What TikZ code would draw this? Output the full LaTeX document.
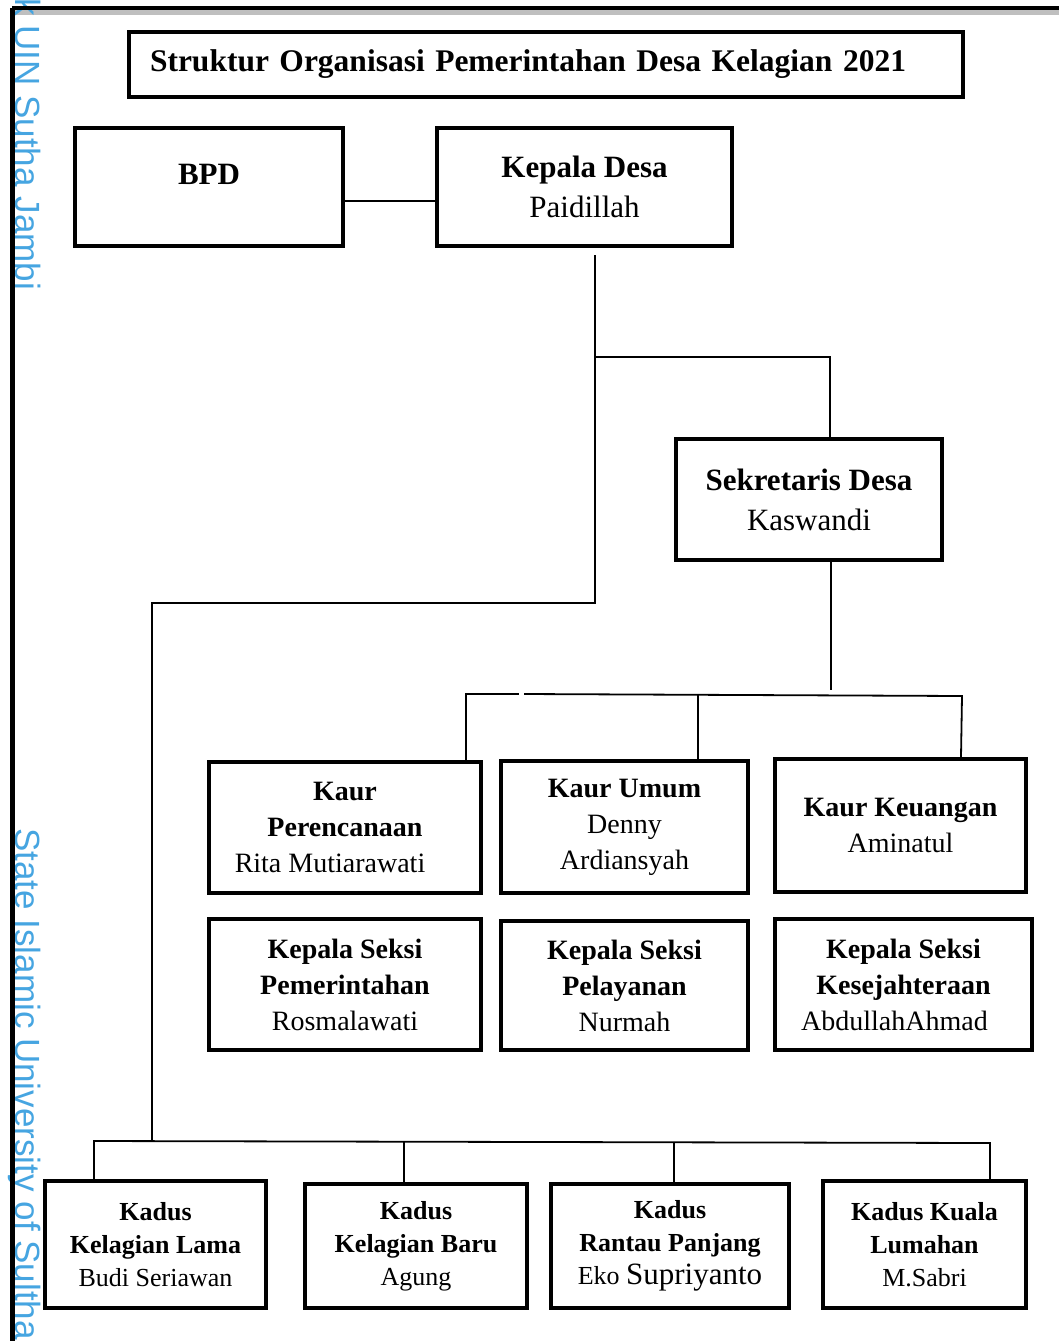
\documentclass[tikz,border=0pt]{standalone}
\usepackage{fontspec}
\setmainfont{Liberation Serif}
\newfontfamily\wmfont{Liberation Sans}
\usepackage{tikz}
\usetikzlibrary{positioning}
\definecolor{wm_blue}{RGB}{70,165,225}

\begin{document}
\begin{tikzpicture}[x=1pt, y=-1pt,
      box/.style={draw, line width=4pt, align=center, inner sep=0pt,
                  font=\fontsize{28}{36}\selectfont},
      topbox/.style={box, font=\fontsize{31}{40}\selectfont},
      kbox/.style={box, font=\fontsize{26}{33}\selectfont},
      conn/.style={line width=1.8pt},
      wm/.style={text=wm_blue, font=\wmfont\fontsize{35}{35}\selectfont,
                 rotate=-90, inner sep=0pt, anchor=base west},
    ]
    \useasboundingbox (0,0) rectangle (1059,1341);
    \clip (0,0) rectangle (1059,1341);

    % page frame and watermark
    \draw[black!25, line width=5pt] (12,12) -- (1059,12);
    \node[wm] (wm1) at (15,-2) {k UIN Sutha Jambi};
    \node[wm] (wm2) at (15,828) {State Islamic University of Sultha};
    \draw[line width=4pt] (12,8) -- (1059,8);
    \draw[line width=5pt] (12,8) -- (12,1341);

    % title
    \node[draw, line width=4pt, minimum width=834pt, minimum height=65pt,
          text width=792pt, inner xsep=21pt, align=left,
          font=\bfseries\fontsize{31.5}{36}\selectfont] (judul) at (546,64.5)
          {Struktur Organisasi Pemerintahan Desa Kelagian 2021};

    % top level
    \node[topbox, minimum width=268pt, minimum height=118pt, text depth=26pt]
          (bpd) at (209,187) {\textbf{BPD}};
    \node[topbox, minimum width=295pt, minimum height=118pt]
          (kades) at (584.5,187) {\textbf{Kepala Desa}\\Paidillah};
    \node[topbox, minimum width=266pt, minimum height=121pt]
          (sekdes) at (809,499.5) {\textbf{Sekretaris Desa}\\Kaswandi};

    % kaur
    \node[box, minimum width=272pt, minimum height=131pt]
          (kaur1) at (345,827.5) {\textbf{Kaur}\\\textbf{Perencanaan}\\\hspace*{-30pt}Rita Mutiarawati};
    \node[box, minimum width=247pt, minimum height=132pt]
          (kaur2) at (624.5,827) {\textbf{Kaur Umum}\\Denny\\Ardiansyah};
    \node[box, minimum width=251pt, minimum height=133pt]
          (kaur3) at (900.5,825.5) {\textbf{Kaur Keuangan}\\Aminatul};

    % kepala seksi
    \node[box, minimum width=272pt, minimum height=131pt]
          (kasi1) at (345,984.5) {\textbf{Kepala Seksi}\\\textbf{Pemerintahan}\\Rosmalawati};
    \node[box, minimum width=247pt, minimum height=129pt]
          (kasi2) at (624.5,985.5) {\textbf{Kepala Seksi}\\\textbf{Pelayanan}\\Nurmah};
    \node[box, minimum width=257pt, minimum height=131pt]
          (kasi3) at (903.5,984.5) {\textbf{Kepala Seksi}\\\textbf{Kesejahteraan}\\\hspace*{-18pt}AbdullahAhmad};

    % kadus
    \node[kbox, minimum width=221pt, minimum height=127pt]
          (kadus1) at (155.5,1244.5) {\textbf{Kadus}\\\textbf{Kelagian Lama}\\Budi Seriawan};
    \node[kbox, minimum width=222pt, minimum height=124pt]
          (kadus2) at (416,1246) {\textbf{Kadus}\\\textbf{Kelagian Baru}\\Agung};
    \node[kbox, minimum width=238pt, minimum height=124pt]
          (kadus3) at (670,1246) {\textbf{Kadus}\\\textbf{Rantau Panjang}\\Eko {\fontsize{31}{33}\selectfont Supriyanto}};
    \node[kbox, minimum width=203pt, minimum height=127pt]
          (kadus4) at (924.5,1244.5) {\textbf{Kadus Kuala}\\\textbf{Lumahan}\\M.Sabri};

    % joints
    \coordinate (kdfoot) at (595,255);
    \coordinate (jsek) at (595,357);
    \coordinate (jleft) at (595,603);
    \coordinate (jdus) at (152,1141);
    \coordinate (jkaur) at (831,690);

    % connectors
    \draw[conn] (bpd.east |- {0,201}) -- (kades.west |- {0,201});
    \draw[conn] (kdfoot) -- (jleft) -- (jleft -| jdus) -- (jdus);
    \draw[conn] (jsek) -| (sekdes.north -| {830,0});
    \draw[conn] (sekdes.south -| jkaur) -- (jkaur);

    \draw[conn] (kaur1.north -| {466,0}) -- (466,694) -- (519,694);
    \draw[conn] (524,694) -- (962,696) -- (kaur3.north -| {961,0});
    \draw[conn] (698,695) -- (kaur2.north -| {698,0});

    \draw[conn] (kadus1.north -| {94,0}) -- (94,1141) -- (990,1143) -- (kadus4.north -| {990,0});
    \draw[conn] (404,1141) -- (kadus2.north -| {404,0});
    \draw[conn] (674,1142) -- (kadus3.north -| {674,0});
  \end{tikzpicture}
\end{document}
